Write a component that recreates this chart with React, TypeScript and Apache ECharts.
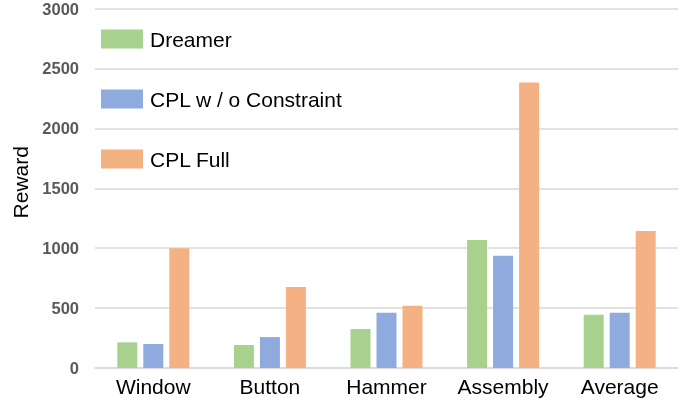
import React, { useEffect, useRef } from "react";
import * as echarts from "echarts";

const categories = ["Window", "Button", "Hammer", "Assembly", "Average"];
const dreamer = [214, 192, 325, 1069, 444];
const cplNoConstraint = [200, 258, 461, 936, 461];
const cplFull = [1000, 675, 519, 2383, 1144];
const seriesNames = ["Dreamer", "CPL w / o Constraint", "CPL Full"];
const colors = ["#A9D18E", "#8FAADC", "#F4B183"];

export default function App() {
  const ref = useRef<HTMLDivElement>(null);
  useEffect(() => {
    if (!ref.current) return;
    const chart = echarts.init(ref.current, undefined, { renderer: "svg" });
    const font = "'Liberation Sans', Arial, Helvetica, sans-serif";
    const data = [dreamer, cplNoConstraint, cplFull];
    chart.setOption({
      animation: false,
      textStyle: { fontFamily: font },
      grid: { left: 95, right: 19, top: 8, bottom: 37, containLabel: false },
      legend: {
        orient: "vertical",
        left: 101,
        top: 27,
        padding: 0,
        itemWidth: 42,
        itemHeight: 19,
        itemGap: 36,
        icon: "rect",
        textStyle: { fontSize: 21, lineHeight: 24, color: "#000", fontFamily: font, padding: [0, 0, 0, 2] },
        data: seriesNames,
      },
      xAxis: {
        type: "category",
        data: categories,
        axisLine: { show: true, lineStyle: { color: "#d9d9d9", width: 1.5 } },
        axisTick: { show: false },
        axisLabel: { color: "#000", fontSize: 21, margin: 8, fontFamily: font, interval: 0, hideOverlap: false },
      },
      yAxis: {
        type: "value",
        min: 0,
        max: 3000,
        interval: 500,
        name: "Reward",
        nameLocation: "middle",
        nameGap: 59,
        nameRotate: 90,
        nameTextStyle: { color: "#000", fontSize: 21, fontFamily: font, padding: [0, 0, 0, 12] },
        axisLine: { show: false },
        axisTick: { show: false },
        axisLabel: {
          color: "#595959",
          fontSize: 16.5,
          fontWeight: "bold",
          margin: 16,
          fontFamily: font,
          formatter: (v: number) => String(v),
        },
        splitLine: { lineStyle: { color: "#d9d9d9", width: 1.5 } },
      },
      series: seriesNames.map((name, i) => ({
        name,
        type: "bar",
        data: data[i],
        barWidth: 20,
        barGap: "30%",
        itemStyle: { color: colors[i] },
      })),
    });
    return () => chart.dispose();
  }, []);
  return (
    <div
      ref={ref}
      style={{ position: "fixed", left: 0, top: 0, width: 697, height: 405 }}
    />
  );
}
